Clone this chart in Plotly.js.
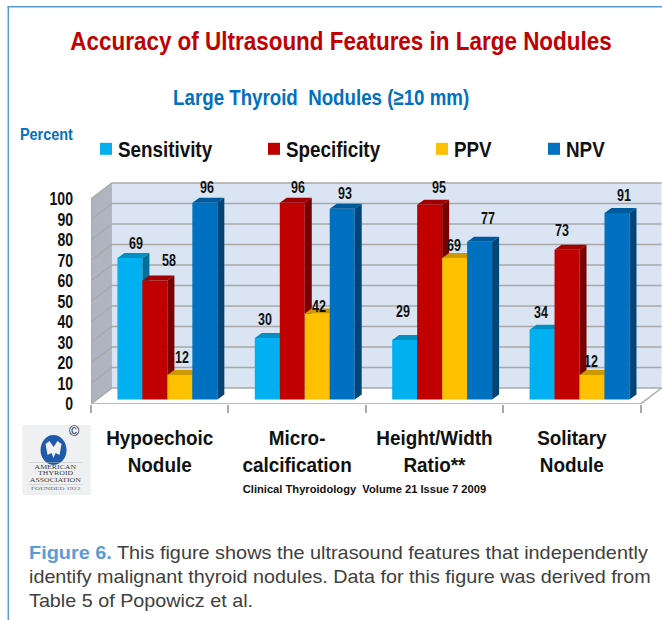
<!DOCTYPE html>
<html>
<head>
<meta charset="utf-8">
<script src="https://cdn.plot.ly/plotly-3.0.1.min.js"></script>
<style>html,body{margin:0;padding:0;background:#fff;overflow:hidden}#chart{width:662px;height:620px}</style>
</head>
<body>
<div id="chart"></div>
<script>
// ---- data ----
const categories = ["Hypoechoic<br>Nodule", "Micro-<br>calcification", "Height/Width<br>Ratio**", "Solitary<br>Nodule"];
const seriesNames = ["Sensitivity", "Specificity", "PPV", "NPV"];
const sensitivity = [69, 30, 29, 34];
const specificity = [58, 96, 95, 73];
const ppv = [12, 42, 69, 12];
const npv = [96, 93, 77, 91];
const yTicks = [0, 10, 20, 30, 40, 50, 60, 70, 80, 90, 100];

const seriesValues = [sensitivity, specificity, ppv, npv];

// ---- styling ----
const faceColors = ["#00b0f0", "#c00000", "#ffc000", "#0070c0"];
const topColors = ["#008fc4", "#a00000", "#cc9a00", "#005b9e"];
const sideColors = ["#006f9c", "#7a0000", "#997300", "#004478"];
const sans = '"Liberation Sans", Arial, sans-serif';
const gridColor = "#a9a9a9";

// label nudges [dx, dy] in px from each bar's centre/top (dy up)
const labelNudges = [
  [[6, 15], [-2, 19], [-2, 29], [-1, 17]],
  [[14, 20], [6, 15], [9, 17], [-5, 19]],
  [[2, 17], [1.5, 7], [-1, 13], [-1, 13]],
  [[2, 15], [3, 15], [8, 23], [7, 17]]
];

// ---- geometry of the pseudo-3D frame (pixels on the page) ----
const W = 662, H = 620;
const L = 90.5, R = 662, T = 170, B = 404;
const catPx = 137.5, unitPx = 2.05;
const wallDx = 21 / catPx, wallDy = 16 / unitPx;      // depth of the box
const barDx = 7 / catPx, barDy = 5 / unitPx;          // depth of a bar
const barW = 25 / catPx;
const px = x => (x - L) / (R - L);
const py = y => (B - y) / (B - T);

const frontX = [-0.5, -0.5 + (R - L) / catPx];
const frontY = [0, (B - T) / unitPx];
const planeShiftX = 7.7 / catPx, planeShiftY = 4.5 / unitPx;
const barX = [frontX[0] - planeShiftX, frontX[1] - planeShiftX];
const barY = [frontY[0] - planeShiftY, frontY[1] - planeShiftY];

const traces = [];
const poly = (xs, ys, color) => ({
  type: "scatter", mode: "lines", x: xs, y: ys, fill: "toself", fillcolor: color,
  line: {width: 0, color: color}, hoverinfo: "skip", showlegend: false, xaxis: "x", yaxis: "y"
});
const x0 = -0.5, x1 = 3.5, yTop = 100;
// left wall, back wall
traces.push(poly([x0, x0 + wallDx, x0 + wallDx, x0, x0], [0, wallDy, yTop + wallDy, yTop, 0], "#aeb5c1"));
traces.push(poly([x0 + wallDx, x1 + wallDx, x1 + wallDx, x0 + wallDx, x0 + wallDx],
                 [wallDy, wallDy, yTop + wallDy, yTop + wallDy, wallDy], "#dae4f3"));
// grid lines bent across the walls
const gx = [], gy = [];
yTicks.forEach(v => { gx.push(x0, x0 + wallDx, x1 + wallDx, null); gy.push(v, v + wallDy, v + wallDy, null); });
traces.push({type: "scatter", mode: "lines", x: gx, y: gy, line: {color: gridColor, width: 1.5},
  hoverinfo: "skip", showlegend: false, xaxis: "x", yaxis: "y"});
// floor edges and the front line
traces.push({type: "scatter", mode: "lines",
  x: [x0, x0, null, x0, x1, x1 + wallDx, null], y: [yTop, 0, null, 0, 0, wallDy, null],
  line: {color: gridColor, width: 1.5}, hoverinfo: "skip", showlegend: false, xaxis: "x", yaxis: "y"});

// one overlay subplot per series so that later series hide earlier ones
seriesValues.forEach((vals, i) => {
  const n = i + 2, xa = "x" + n, ya = "y" + n;
  const off = (i - 2) * barW;
  traces.push({
    type: "bar", name: seriesNames[i], x: categories.map((c, k) => k), y: vals,
    width: barW, offset: off, marker: {color: faceColors[i]}, xaxis: xa, yaxis: ya,
    customdata: categories.map(c => c.replace("<br>", " ")),
    hovertemplate: "%{customdata}<br>" + seriesNames[i] + ": %{y}%<extra></extra>"
  });
  const tx = [], ty = [], sx = [], sy = [];
  vals.forEach((v, k) => {
    const a = k + off, b = a + barW;
    tx.push(a, a + barDx, b + barDx, b, a, null);
    ty.push(v, v + barDy, v + barDy, v, v, null);
    sx.push(b, b + barDx, b + barDx, b, b, null);
    sy.push(0, barDy, v + barDy, v, 0, null);
  });
  [[tx, ty, topColors[i]], [sx, sy, sideColors[i]]].forEach(p => {
    const t = poly(p[0], p[1], p[2]);
    t.xaxis = xa; t.yaxis = ya;
    traces.push(t);
  });
});

const annotations = [], annStretch = [];
const pageText = (x, y, text, size, color, family, weight, anchor, stretch) => {
  annotations.push({
    xref: "paper", yref: "paper", x: px(x), y: py(y), text: text, showarrow: false,
    xanchor: anchor || "center", align: anchor || "center", yanchor: "middle", borderpad: 0,
    font: {size: size, color: color, family: family, weight: weight || "normal"}
  });
  annStretch.push(stretch || 1);
};

// value labels
seriesValues.forEach((vals, i) => vals.forEach((v, k) => {
  annotations.push({
    xref: "x" + (i + 2), yref: "y" + (i + 2), x: k + (i - 1.5) * barW, y: v, text: String(v),
    showarrow: false, xanchor: "center", yanchor: "middle",
    xshift: labelNudges[i][k][0], yshift: labelNudges[i][k][1],
    font: {size: 16, family: sans, weight: "bold", color: "#111"}
  });
  annStretch.push(0.78);
}));

pageText(321, 97, "Large Thyroid&nbsp; Nodules (≥10 mm)", 22, "#0070c0", sans, "bold", "center", 0.85);
pageText(46, 134, "Percent", 16, "#0070c0", sans, "bold", "center", 0.9);
pageText(364.5, 489, "Clinical Thyroidology&nbsp; Volume 21 Issue 7 2009", 11.5, "#111", sans, "bold", "center", 0.97);

// caption
pageText(27, 552, '<span style="color:#5b9bd5;font-weight:bold">Figure 6.</span> This figure shows the ultrasound features that independently', 19, "#404040", sans, "normal", "left", 1.045);
pageText(27, 576, "identify malignant thyroid nodules. Data for this figure was derived from", 19, "#404040", sans, "normal", "left", 1.04);
pageText(27, 600, "Table 5 of Popowicz et al.", 19, "#404040", sans, "normal", "left", 1.04);

// logo text
const serif = '"Liberation Serif", serif';
pageText(55, 466, "AMERICAN", 6.5, "#444", serif, "normal", "center", 1.2);
pageText(55, 472.5, "THYROID", 6.5, "#444", serif, "normal", "center", 1.2);
pageText(55, 479, "ASSOCIATION", 6.5, "#444", serif, "normal", "center", 1.2);
pageText(55, 488, "FOUNDED 1923", 5, "#666", serif, "normal", "center", 1.4);
pageText(74, 431, "©", 14, "#222", sans);

// frame and logo artwork
const pageRect = (x, y, x2, y2, color) => ({
  type: "rect", xref: "paper", yref: "paper", x0: px(x), x1: px(x2), y0: py(y), y1: py(y2),
  fillcolor: color, line: {width: 0}, layer: "below"
});
const shapes = [
  pageRect(7, 6, 8.5, H, "#5b9bd5"),
  pageRect(7, 6, W, 7.5, "#5b9bd5"),
  pageRect(22, 425, 90, 495, "#eef0f2"),
  {type: "circle", xref: "paper", yref: "paper", x0: px(40), x1: px(66), y0: py(435), y1: py(465),
   fillcolor: "#1f5ba8", line: {width: 0}, layer: "below"},
  {type: "path", xref: "paper", yref: "paper", layer: "below", fillcolor: "#eef0f2", line: {width: 0},
   path: "M " + [[45, 444], [49, 441], [53, 447], [57, 441], [61, 444], [59, 455], [55, 453], [53, 458], [51, 453], [47, 455]]
     .map(p => px(p[0]) + "," + py(p[1])).join(" L ") + " Z"},
  pageRect(28, 462, 82, 462.6, "#bbb"),
  pageRect(28, 484, 82, 484.6, "#bbb")
];

const hiddenAxes = {};
[2, 3, 4, 5].forEach(n => {
  hiddenAxes["xaxis" + n] = {range: barX, overlaying: "x", visible: false, fixedrange: true};
  hiddenAxes["yaxis" + n] = {range: barY, overlaying: "y", visible: false, fixedrange: true};
});

const layout = Object.assign({
  width: W, height: H,
  margin: {l: L, r: W - R, t: T, b: H - B, pad: 0},
  paper_bgcolor: "#fff", plot_bgcolor: "rgba(0,0,0,0)",
  hovermode: "closest",
  title: {text: "Accuracy of Ultrasound Features in Large Nodules", xref: "container", yref: "container",
    x: 341 / W, y: 1 - 41 / H, xanchor: "center", yanchor: "middle",
    font: {size: 26, color: "#c00000", family: sans, weight: "bold"}},
  xaxis: {range: frontX, fixedrange: true, showgrid: false, zeroline: false, showline: false,
    tickmode: "array", tickvals: categories.map((c, k) => k), ticktext: categories, ticks: "", ticklen: 0,
    ticklabelstandoff: 19,
    tickfont: {size: 21, family: sans, weight: "bold", color: "#111"},
    minor: {tickmode: "array", tickvals: [-0.5, 0.5, 1.5, 2.5, 3.5], ticks: "outside", ticklen: 8, tickwidth: 1.5, tickcolor: gridColor, showgrid: false}},
  yaxis: {range: frontY, fixedrange: true, showgrid: false, zeroline: false, showline: false,
    tickmode: "array", tickvals: yTicks, ticks: "", ticklabelstandoff: 17,
    tickfont: {size: 18, family: sans, weight: "bold", color: "#111"}},
  legend: {orientation: "h", x: px(91), y: py(128), xanchor: "left", yanchor: "top",
    bgcolor: "rgba(0,0,0,0)", itemclick: false, itemdoubleclick: false,
    font: {size: 22, family: sans, weight: "bold", color: "#111"}},
  annotations: annotations,
  shapes: shapes
}, hiddenAxes);

// The reference uses a condensed face that is not installed: fit the real text to its width.
function fit(el, ratio) {
  if (ratio === 1) return;
  const lines = el.querySelectorAll("tspan.line");
  const parts = lines.length ? Array.from(lines) : [el];
  parts.forEach(t => {
    t.setAttribute("textLength", (t.getComputedTextLength() * ratio).toFixed(2));
    t.setAttribute("lengthAdjust", "spacingAndGlyphs");
  });
}
const legendSwatchLeft = [100, 268, 436, 548];

Plotly.newPlot("chart", traces, layout, {displayModeBar: false, responsive: false}).then(gd => {
  const title = gd.querySelector(".gtitle");
  const cx = +title.getAttribute("x");
  title.setAttribute("transform", "translate(" + cx + ",0) scale(0.864,1) translate(" + (-cx) + ",0)");
  gd.querySelectorAll(".xtick text").forEach(t => fit(t, 0.9));
  gd.querySelectorAll(".ytick text").forEach(t => fit(t, 0.78));
  gd.querySelectorAll(".annotation").forEach(a => {
    const i = +a.getAttribute("data-index");
    fit(a.querySelector("text"), annStretch[i]);
  });
  const box = gd.querySelector(".legend .scrollbox");
  if (box) box.removeAttribute("clip-path");
  gd.querySelectorAll(".legend .traces").forEach((item, i) => {
    const text = item.querySelector("text");
    fit(text, 0.855);
    text.setAttribute("x", +text.getAttribute("x") - 8);
    const sw = item.querySelector(".legendpoints").getBoundingClientRect();
    const m = /translate\(([-\d.]+)[ ,]*([-\d.]+)?\)/.exec(item.getAttribute("transform"));
    item.setAttribute("transform", "translate(" + (+m[1] + legendSwatchLeft[i] - sw.left) + "," + (m[2] || 0) + ")");
  });
});
</script>
</body>
</html>
